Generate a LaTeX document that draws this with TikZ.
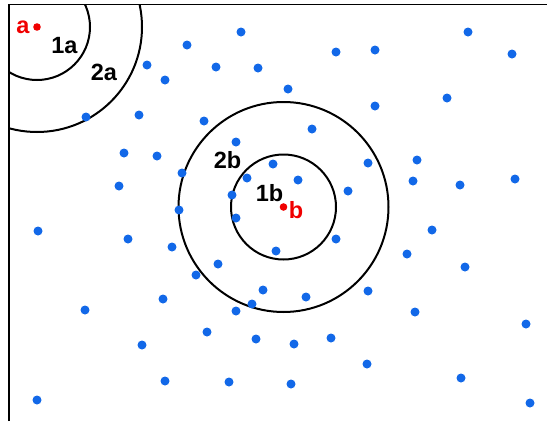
\documentclass[tikz,border=0pt]{standalone}
\usepackage{fontspec}
\setmainfont{Liberation Sans}
\definecolor{dotblue}{RGB}{18,104,232}
\definecolor{ptred}{RGB}{240,0,0}

\begin{document}
\begin{tikzpicture}[x=1pt,y=-1pt,font=\fontsize{23.5}{27}\selectfont\bfseries,
  lbl/.style={inner sep=0pt},
  ring/.style={line width=2pt}]
  \useasboundingbox (0,0) rectangle (547,421);
  \begin{scope}
    \clip (9,4.5) rectangle (547,421);
    % neighbourhoods of a and b
    \draw[ring] (37,27) circle[radius=53pt]; \draw[ring] (37,27) circle[radius=105pt];
    \draw[ring] (283.5,207) circle[radius=52.5pt]; \draw[ring] (283.5,207) circle[radius=105pt];
  \end{scope}
  \draw[line width=1.3pt] (9,421) -- (9,4.5) -- (547,4.5);
  \foreach \x/\y in {241/32,468/32,187/45,336/52,375/50,512/54,147/65,165/80,216/67,258/68,
    288/89,447/98,86/117,139/115,204/121,375/106,312/129,236/142,124/153,157/156,
    417/160,182/173,273/164,247/178,298/180,368/163,119/186,413/181,460/185,515/179,
    348/191,232/195,179/210,236/218,38/231,128/239,172/247,276/251,336/239,432/230,
    407/254,218/264,196/275,465/267,263/290,163/299,306/297,368/291,252/304,85/310,
    236/311,415/312,526/324,207/332,142/345,256/339,294/344,331/338,367/364,165/381,
    229/382,291/384,461/378,37/400,530/403}
    \fill[dotblue] (\x,\y) circle[radius=4.5pt];
  \fill[ptred] (37,27) circle[radius=3.8pt]; \fill[ptred] (283.5,207) circle[radius=3.8pt];
  \node[lbl,ptred] (la) at (23,27) {a};
  \node[lbl] (la1) at (64.5,45.5) {1a};
  \node[lbl] (la2) at (104,72.5) {2a};
  \node[lbl] (lb2) at (227.5,160.5) {2b};
  \node[lbl] (lb1) at (269.5,193) {1b};
  \node[lbl,ptred] (lb) at (296,210) {b};
\end{tikzpicture}
\end{document}
